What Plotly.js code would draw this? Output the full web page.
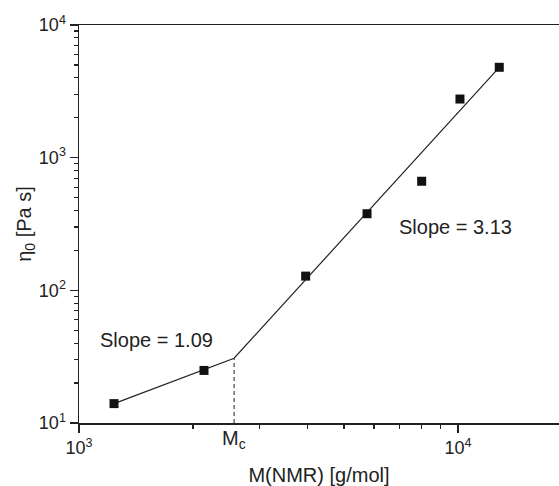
<!DOCTYPE html>
<html>
<head>
<meta charset="utf-8">
<script src="https://cdn.plot.ly/plotly-3.0.1.min.js"></script>
<style>html,body{margin:0;padding:0;background:#fff;}#chart{width:559px;height:486px;}</style>
</head>
<body>
<div id="chart"></div>
<script>
// Measured data: molar mass M(NMR) [g/mol] vs zero-shear viscosity eta0 [Pa s]
const molarMass = [1237, 2137, 3963, 5754, 8020, 10120, 12850];
const viscosity = [14.0, 24.9, 128, 378, 664, 2767, 4800];

// Power-law fit lines (slope 1.09 below Mc, slope 3.13 above Mc)
const fitMass = [1237, 2566, 12850];
const fitVisc = [14.0, 30.8, 4800];

// Critical molar mass Mc marker (dashed drop line)
const mcMass = [2566, 2566];
const mcVisc = [10, 30.8];

// Tick values / labels
const xMajorVals = [1000, 10000];
const xMajorText = ['10<sup>3</sup>', '10<sup>4</sup>'];
const xMinorVals = [2000, 3000, 4000, 5000, 6000, 7000, 8000, 9000];
const yMajorVals = [10, 100, 1000, 10000];
const yMajorText = ['10<sup>1</sup>', '10<sup>2</sup>', '10<sup>3</sup>', '10<sup>4</sup>'];
const yMinorVals = [20,30,40,50,60,70,80,90,200,300,400,500,600,700,800,900,2000,3000,4000,5000,6000,7000,8000,9000];

const FONT = 'Liberation Sans, Arial, Helvetica, sans-serif';

const traces = [
  {x: fitMass, y: fitVisc, mode: 'lines', line: {color: '#222', width: 1.2}, hoverinfo: 'skip'},
  {x: mcMass, y: mcVisc, mode: 'lines', line: {color: '#444', width: 1.2, dash: '4px,3px'}, hoverinfo: 'skip'},
  {x: molarMass, y: viscosity, mode: 'markers', marker: {symbol: 'square', size: 9, color: '#111'}}
];

const layout = {
  width: 559, height: 486,
  margin: {l: 79, r: 0, t: 25, b: 63},
  paper_bgcolor: '#fff', plot_bgcolor: '#fff',
  showlegend: false,
  font: {family: FONT, color: '#222', size: 17},
  xaxis: {
    type: 'log', range: [3, 3 + 480/379],
    showgrid: false, zeroline: false,
    showline: true, linecolor: '#222', linewidth: 1.5, mirror: true,
    ticks: 'outside', ticklen: 8, tickwidth: 1.3, tickcolor: '#222',
    tickmode: 'array', tickvals: xMajorVals, ticktext: xMajorText,
    tickfont: {size: 18, family: FONT, color: '#222'},
    minor: {tickmode: 'array', tickvals: xMinorVals, ticks: 'outside', ticklen: 4, tickwidth: 1.2, tickcolor: '#222', showgrid: false},
    title: {text: 'M(NMR) [g/mol]', font: {size: 20, family: FONT, color: '#222'}, standoff: 12}
  },
  yaxis: {
    type: 'log', range: [1, 4],
    showgrid: false, zeroline: false,
    showline: true, linecolor: '#222', linewidth: 1.5, mirror: false,
    ticks: 'outside', ticklen: 8, tickwidth: 1.3, tickcolor: '#222',
    tickmode: 'array', tickvals: yMajorVals, ticktext: yMajorText,
    tickfont: {size: 18, family: FONT, color: '#222'},
    minor: {tickmode: 'array', tickvals: yMinorVals, ticks: 'outside', ticklen: 4, tickwidth: 1.2, tickcolor: '#222', showgrid: false},
    title: {text: 'η<sub>0</sub> [Pa s]', font: {size: 20, family: FONT, color: '#222'}, standoff: 2}
  },
  annotations: [
    {xref: 'paper', yref: 'paper', x: 0.1615, y: 0.209, text: 'Slope = 1.09', showarrow: false,
     font: {size: 20, family: FONT, color: '#222'}, xanchor: 'center', yanchor: 'middle'},
    {xref: 'paper', yref: 'paper', x: 0.784, y: 0.4936, text: 'Slope = 3.13', showarrow: false,
     font: {size: 20, family: FONT, color: '#222'}, xanchor: 'center', yanchor: 'middle'},
    {xref: 'paper', yref: 'paper', x: 0.3235, y: -0.042, text: 'M<sub>c</sub>', showarrow: false,
     font: {size: 20, family: FONT, color: '#222'}, xanchor: 'center', yanchor: 'middle'}
  ]
};

Plotly.newPlot('chart', traces, layout, {displayModeBar: false, staticPlot: true});
</script>
</body>
</html>
